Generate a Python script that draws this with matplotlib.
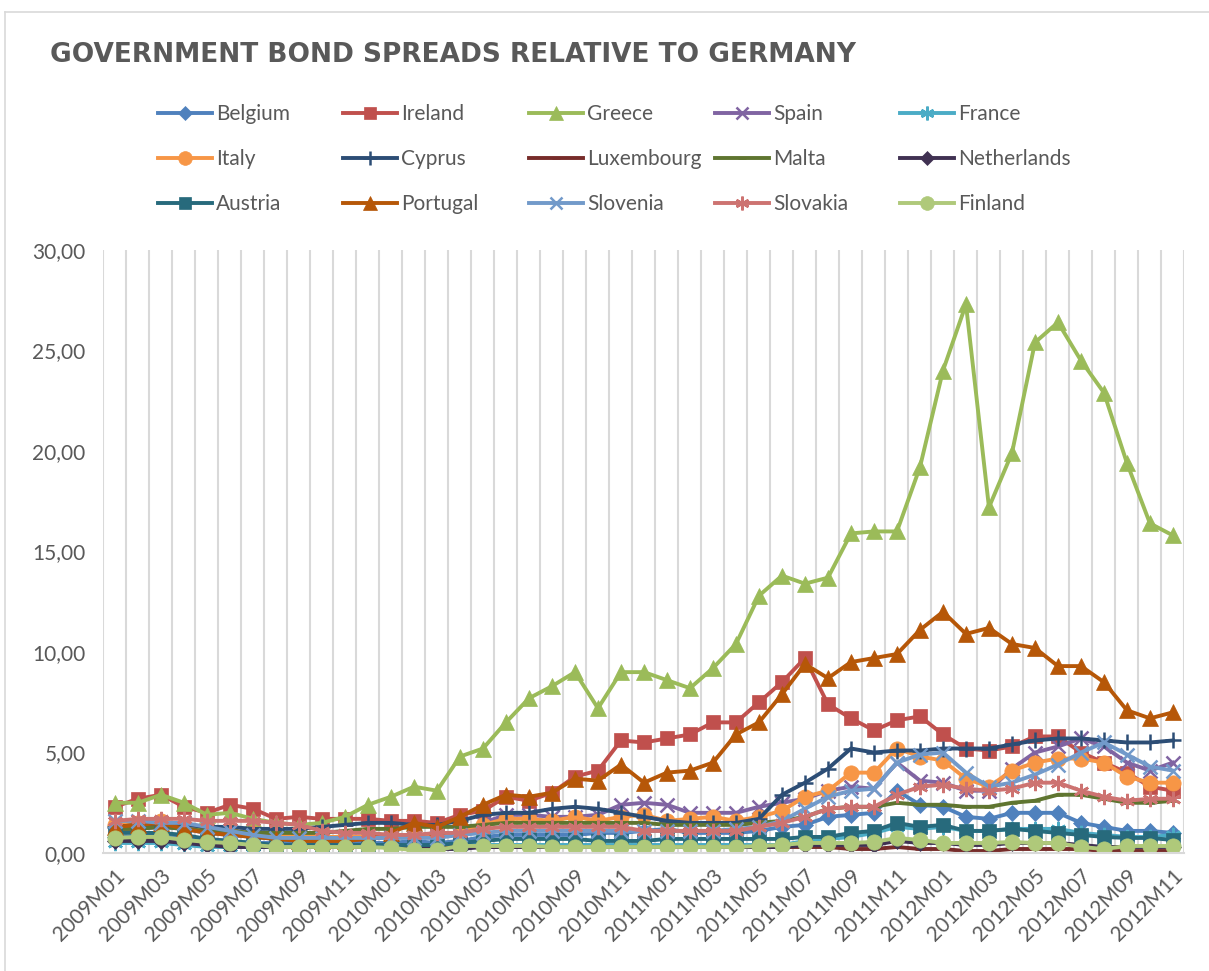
import numpy as np
import matplotlib
matplotlib.use('Agg')
import matplotlib.pyplot as plt
from matplotlib.lines import Line2D
from matplotlib.ticker import FuncFormatter

# months 2009M01 .. 2012M11
months = [f"{y}M{m:02d}" for y in range(2009, 2013) for m in range(1, 13)][:47]

belgium = [0.8, 0.8, 0.9, 0.8, 0.7, 0.6, 0.5, 0.5, 0.5, 0.5, 0.5, 0.5, 0.5, 0.6, 0.5, 0.6, 0.8,
           0.9, 0.9, 0.9, 0.9, 1.0, 1.0, 1.1, 1.2, 1.0, 1.0,
           1.0, 1.1, 1.3, 1.4, 1.8, 1.9, 2.0, 3.1, 2.4, 2.3,
           1.8, 1.7, 2.0, 2.0, 2.0, 1.5, 1.3, 1.1, 1.1, 1.0]
ireland = [2.3, 2.7, 2.9, 2.3, 2.0, 2.4, 2.2, 1.7, 1.8, 1.7,
           1.7, 1.7, 1.6, 1.6, 1.5, 1.9, 2.1, 2.8, 2.6, 3.0,
           3.8, 4.1, 5.6, 5.5, 5.7, 5.9, 6.5, 6.5, 7.5, 8.5,
           9.7, 7.4, 6.7, 6.1, 6.6, 6.8, 5.9, 5.2, 5.1, 5.3,
           5.8, 5.8, 5.0, 4.5, 4.0, 3.3, 3.1]
greece = [2.5, 2.5, 2.9, 2.5, 1.9, 2.0, 1.7, 1.5, 1.4, 1.5,
          1.8, 2.4, 2.8, 3.3, 3.1, 4.8, 5.2, 6.5, 7.7, 8.3,
          9.0, 7.2, 9.0, 9.0, 8.6, 8.2, 9.2, 10.4, 12.8, 13.8,
          13.4, 13.7, 15.9, 16.0, 16.0, 19.2, 24.0, 27.3, 17.2, 19.9,
          25.4, 26.4, 24.5, 22.9, 19.4, 16.4, 15.8]
spain = [1.1, 1.2, 1.3, 1.2, 1.0, 0.9, 0.8, 0.7, 0.7, 0.6, 0.6, 0.7, 0.8, 0.9, 0.8, 1.0, 1.5,
         1.9, 1.9, 1.8, 1.8, 1.9, 2.4, 2.5, 2.4, 2.0, 2.0,
         2.0, 2.3, 2.5, 2.7, 3.1, 3.3, 3.2, 4.5, 3.6, 3.5,
         3.1, 3.1, 4.2, 5.0, 5.3, 5.7, 5.3, 4.5, 4.1, 4.5]
france = [0.5, 0.5, 0.5, 0.4, 0.3, 0.3, 0.3, 0.3, 0.3, 0.3, 0.3, 0.3, 0.3, 0.3, 0.3, 0.4, 0.4,
          0.4, 0.4, 0.4, 0.4, 0.4, 0.4, 0.4, 0.4, 0.4, 0.4,
          0.4, 0.4, 0.4, 0.6, 0.7, 0.8, 1.0, 1.3, 1.2, 1.3,
          1.1, 1.1, 1.2, 1.2, 1.2, 1.0, 0.9, 0.8, 0.8, 0.9]
italy = [1.4, 1.5, 1.6, 1.4, 1.2, 1.1, 1.0, 0.9, 0.9, 0.8, 0.8, 0.8, 0.8, 0.9, 0.9, 1.0, 1.4,
         1.7, 1.7, 1.6, 1.8, 1.6, 1.8, 1.9, 1.6, 1.7, 1.8,
         1.6, 1.8, 2.1, 2.8, 3.1, 4.0, 4.0, 5.2, 4.8, 4.6,
         3.7, 3.3, 4.1, 4.5, 4.7, 4.7, 4.5, 3.8, 3.5, 3.5]
cyprus = [1.3, 1.4, 1.4, 1.4, 1.3, 1.3, 1.2, 1.2, 1.2, 1.3, 1.4, 1.5, 1.5, 1.4, 1.4, 1.6, 1.9,
          2.0, 2.0, 2.2, 2.3, 2.2, 2.0, 1.8, 1.6, 1.5, 1.5,
          1.5, 1.7, 2.9, 3.5, 4.2, 5.2, 5.0, 5.1, 5.1, 5.2,
          5.2, 5.2, 5.4, 5.6, 5.7, 5.7, 5.6, 5.5, 5.5, 5.6]
luxembourg = [0.7, 0.7, 0.7, 0.6, 0.5, 0.5, 0.4, 0.4, 0.3, 0.3, 0.3, 0.3, 0.3, 0.3, 0.3, 0.3, 0.3,
              0.3, 0.3, 0.3, 0.3, 0.3, 0.3, 0.3, 0.3, 0.3, 0.3,
              0.3, 0.3, 0.3, 0.3, 0.3, 0.2, 0.2, 0.3, 0.2, 0.2,
              0.1, 0.1, 0.2, 0.2, 0.2, 0.2, 0.1, 0.1, 0.1, 0.1]
malta = [1.2, 1.2, 1.3, 1.2, 1.1, 1.1, 1.0, 1.0, 1.0, 1.0, 1.1, 1.2, 1.2, 1.3, 1.3, 1.3, 1.4,
         1.5, 1.5, 1.5, 1.5, 1.5, 1.5, 1.5, 1.4, 1.4, 1.4,
         1.4, 1.5, 1.6, 1.8, 2.2, 2.3, 2.3, 2.5, 2.4, 2.4,
         2.3, 2.3, 2.5, 2.6, 2.9, 2.9, 2.7, 2.5, 2.5, 2.6]
netherlands = [0.6, 0.6, 0.6, 0.5, 0.4, 0.3, 0.3, 0.3, 0.3, 0.3, 0.3, 0.3, 0.3, 0.3, 0.2, 0.2, 0.3,
               0.3, 0.3, 0.3, 0.3, 0.3, 0.3, 0.3, 0.3, 0.3, 0.3,
               0.3, 0.3, 0.3, 0.4, 0.4, 0.4, 0.4, 0.6, 0.5, 0.5,
               0.4, 0.4, 0.5, 0.5, 0.5, 0.4, 0.3, 0.3, 0.3, 0.3]
austria = [1.0, 1.0, 1.0, 0.9, 0.7, 0.6, 0.5, 0.4, 0.4, 0.4, 0.4, 0.4, 0.4, 0.4, 0.4, 0.5, 0.6,
           0.7, 0.7, 0.7, 0.7, 0.6, 0.6, 0.6, 0.7, 0.7, 0.7,
           0.7, 0.7, 0.7, 0.8, 0.8, 1.0, 1.1, 1.5, 1.3, 1.4,
           1.1, 1.1, 1.2, 1.1, 1.0, 0.9, 0.8, 0.75, 0.75, 0.65]
portugal = [1.3, 1.4, 1.5, 1.2, 1.0, 0.9, 0.8, 0.7, 0.6, 0.6, 0.6, 0.7, 1.0, 1.5, 1.3, 1.8, 2.4,
            2.9, 2.8, 3.0, 3.7, 3.6, 4.4, 3.5, 4.0, 4.1, 4.5,
            5.9, 6.5, 7.9, 9.4, 8.7, 9.5, 9.7, 9.9, 11.1, 12.0,
            10.9, 11.2, 10.4, 10.2, 9.3, 9.3, 8.5, 7.1, 6.7, 7.0]
slovenia = [1.6, 1.6, 1.5, 1.5, 1.3, 1.1, 0.9, 0.75, 0.75, 0.75, 0.75, 0.75, 0.75, 0.75, 0.75, 0.9, 1.0,
            1.1, 1.1, 1.1, 1.1, 1.1, 1.1, 1.1, 1.1, 1.1, 1.1,
            1.2, 1.3, 1.6, 2.2, 2.8, 3.1, 3.2, 4.5, 4.9, 5.0,
            4.0, 3.3, 3.5, 3.9, 4.4, 5.0, 5.5, 4.9, 4.3, 4.1]
slovakia = [1.6, 1.7, 1.7, 1.7, 1.6, 1.6, 1.6, 1.5, 1.4, 1.1, 1.0, 1.0, 0.9, 0.9, 1.0, 1.0, 1.2,
            1.3, 1.3, 1.3, 1.3, 1.3, 1.3, 1.1, 1.1, 1.1, 1.1,
            1.1, 1.3, 1.5, 1.8, 2.2, 2.3, 2.3, 2.9, 3.3, 3.4,
            3.2, 3.1, 3.2, 3.5, 3.5, 3.1, 2.8, 2.6, 2.7, 2.7]
finland = [0.75, 0.8, 0.8, 0.65, 0.55, 0.5, 0.4, 0.3, 0.3, 0.3, 0.3, 0.3, 0.25, 0.15, 0.15, 0.35, 0.35,
           0.35, 0.35, 0.3, 0.3, 0.3, 0.3, 0.3, 0.3, 0.3, 0.3,
           0.3, 0.35, 0.4, 0.5, 0.5, 0.5, 0.55, 0.75, 0.65, 0.5,
           0.5, 0.5, 0.55, 0.5, 0.5, 0.3, 0.2, 0.35, 0.35, 0.35]

asterisk = (6, 2, 0)
# name, values, colour, marker, marker size
series = [
    ('Belgium', belgium, '#4F81BD', 'D', 8),
    ('Ireland', ireland, '#C0504D', 's', 10),
    ('Greece', greece, '#9BBB59', '^', 11),
    ('Spain', spain, '#8064A2', 'x', 10),
    ('France', france, '#4BACC6', asterisk, 11),
    ('Italy', italy, '#F79646', 'o', 11),
    ('Cyprus', cyprus, '#2C4D75', '+', 11),
    ('Luxembourg', luxembourg, '#772C2A', '_', 7),
    ('Malta', malta, '#5F7530', '_', 7),
    ('Netherlands', netherlands, '#403152', 'D', 8),
    ('Austria', austria, '#276A7C', 's', 10),
    ('Portugal', portugal, '#B65708', '^', 11),
    ('Slovenia', slovenia, '#729ACA', 'x', 10),
    ('Slovakia', slovakia, '#CD7371', asterisk, 11),
    ('Finland', finland, '#AFC97A', 'o', 11),
]

grey = '#595959'
plt.rcParams['font.family'] = ['Lato', 'DejaVu Sans']

fig = plt.figure(figsize=(12.09, 9.71), dpi=100)
ax = fig.add_axes([0.0856, 0.1215, 0.8941, 0.621])

x = np.arange(len(months))
handles = []
for name, vals, col, mk, ms in series:
    h, = ax.plot(x, vals, color=col, lw=2.8, marker=mk, markersize=ms,
                 markeredgewidth=1.8 if mk in ('x', '+', '_', asterisk) else 0.5,
                 markeredgecolor=col, markerfacecolor=col, label=name,
                 solid_joinstyle='round')
    handles.append(h)

ax.set_xlim(-0.5, len(months) - 0.5)
ax.set_ylim(0, 30)
ax.set_yticks(np.arange(0, 31, 5))
ax.yaxis.set_major_formatter(FuncFormatter(lambda v, p: f"{v:.2f}".replace('.', ',')))
ax.set_xticks(x[::2])
ax.set_xticklabels(months[::2], rotation=45, ha='right', rotation_mode='anchor')
ax.set_xticks(np.arange(-0.5, len(months)), minor=True)
ax.grid(True, axis='x', which='minor', color='#D9D9D9', lw=1.5)
ax.set_axisbelow(True)
ax.tick_params(axis='both', which='both', length=0, labelsize=15, colors=grey)
ax.tick_params(axis='y', pad=13)
ax.tick_params(axis='x', pad=9)
for s in ['top', 'right', 'left']:
    ax.spines[s].set_visible(False)
ax.spines['bottom'].set_color('#D9D9D9')
ax.spines['bottom'].set_linewidth(1.5)

# legend: five fixed-width columns, filled row by row
col_x = [0.1307, 0.2837, 0.4375, 0.5914, 0.7444]
for c in range(5):
    idx = [c, c + 5, c + 10]
    fig.legend([handles[i] for i in idx], [series[i][0] for i in idx],
               loc='upper left', bbox_to_anchor=(col_x[c], 0.893),
               frameon=False, fontsize=15, labelcolor=grey, markerscale=0.9,
               handlelength=2.6, handletextpad=0.2, borderpad=0,
               borderaxespad=0, labelspacing=1.2)

fig.text(0.041, 0.943, 'GOVERNMENT BOND SPREADS RELATIVE TO GERMANY',
         fontsize=19, fontweight='bold', color=grey, family='DejaVu Sans',
         va='center', ha='left')

# chart border
fig.add_artist(Line2D([0.004, 1.0], [0.9876, 0.9876], color='#D9D9D9', lw=1.2))
fig.add_artist(Line2D([0.004, 0.004], [0.0, 0.9876], color='#D9D9D9', lw=1.2))

fig.savefig('out.png', dpi=100, facecolor='white')
